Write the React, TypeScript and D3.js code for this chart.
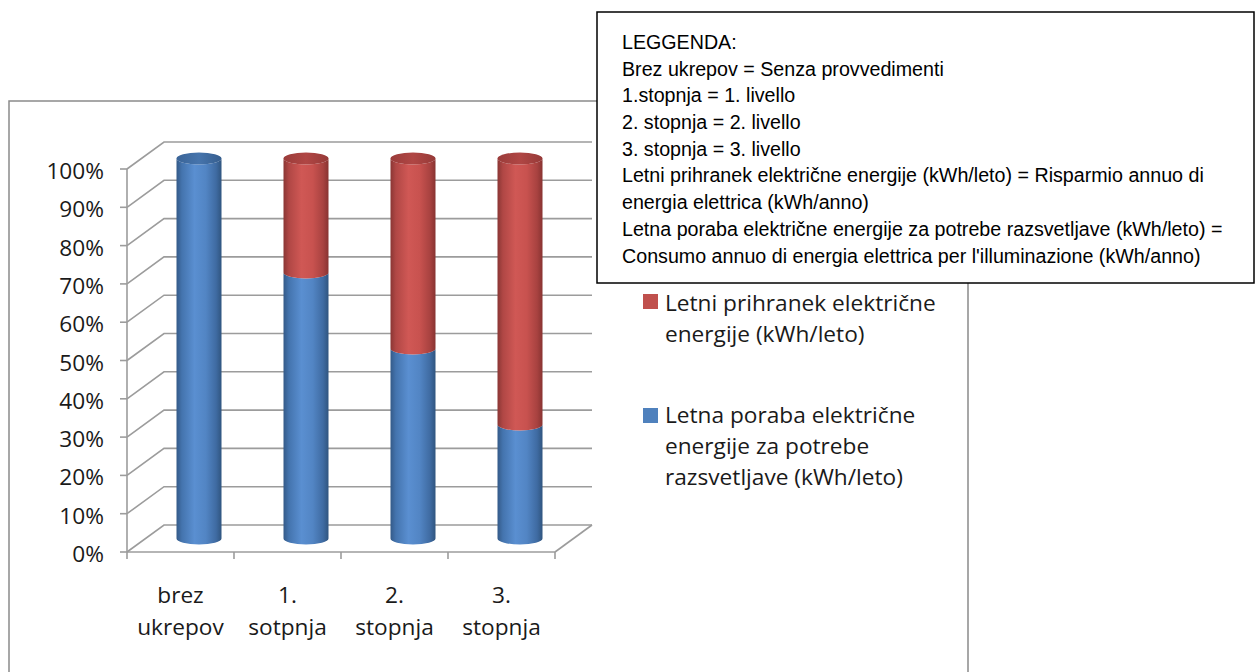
import React from "react";
import * as d3 from "d3";

const categories = ["brez ukrepov", "1. sotpnja", "2. stopnja", "3. stopnja"];
const categoryLines = [
  ["brez", "ukrepov"],
  ["1.", "sotpnja"],
  ["2.", "stopnja"],
  ["3.", "stopnja"],
];
const porabaValues = [100, 70, 50, 30];
const prihranekValues = [0, 30, 50, 70];
const yTickValues = [0, 10, 20, 30, 40, 50, 60, 70, 80, 90, 100];
const seriesPrihranek = ["Letni prihranek električne", "energije (kWh/leto)"];
const seriesPoraba = ["Letna poraba električne", "energije za potrebe", "razsvetljave (kWh/leto)"];
const noteLines = [
  "LEGGENDA:",
  "Brez ukrepov = Senza provvedimenti",
  "1.stopnja = 1. livello",
  "2. stopnja = 2. livello",
  "3. stopnja = 3. livello",
  "Letni prihranek električne energije (kWh/leto) = Risparmio annuo di",
  "energia elettrica (kWh/anno)",
  "Letna poraba električne energije za potrebe razsvetljave (kWh/leto) =",
  "Consumo annuo di energia elettrica per l'illuminazione (kWh/anno)",
];

const W = 1256;
const H = 672;
const DX = 37;
const DY = -27;
const RX = 22.5;
const RY = 6;
const BLUE = "#4F81BD";
const RED = "#C0504D";
const GRID = "#9C9C9C";
const LABEL_FONT = "'Open Sans', 'Noto Sans', sans-serif";
const LABEL_SIZE = 22;
const LABEL_SX = 1.03;
const TEXT_COL = "#1a1a1a";

export default function App() {
  const x = d3.scaleBand<string>().domain(categories).range([127, 555]).paddingInner(0).paddingOuter(0);
  const y = d3.scaleLinear().domain([0, 100]).range([552, 169]);
  const yc = d3.scaleLinear().domain([0, 100]).range([y(0) + DY / 2, y(100) + DY / 2 + 3]);
  const bw = x.bandwidth();
  const backRight = x.range()[1] + DX;

  const seg = (cx: number, v0: number, v1: number) => {
    const top = yc(v1);
    const bot = yc(v0);
    return `M${cx - RX},${top} L${cx - RX},${bot} A${RX},${RY} 0 0 0 ${cx + RX},${bot} L${cx + RX},${top} A${RX},${RY} 0 0 1 ${cx - RX},${top} Z`;
  };

  return (
    <svg width={W} height={H} style={{ position: "absolute", left: 0, top: 0, background: "#fff" }}>
      <defs>
        <linearGradient id="gBlue" x1="0" x2="1" y1="0" y2="0">
          <stop offset="0" stopColor="#345A88" />
          <stop offset="0.12" stopColor="#4474AE" />
          <stop offset="0.4" stopColor="#5A8FD1" />
          <stop offset="0.65" stopColor="#5285C4" />
          <stop offset="0.88" stopColor="#3F6BA2" />
          <stop offset="1" stopColor="#30557F" />
        </linearGradient>
        <linearGradient id="gRed" x1="0" x2="1" y1="0" y2="0">
          <stop offset="0" stopColor="#8A3634" />
          <stop offset="0.12" stopColor="#B04745" />
          <stop offset="0.4" stopColor="#D05855" />
          <stop offset="0.65" stopColor="#C8524F" />
          <stop offset="0.88" stopColor="#A84240" />
          <stop offset="1" stopColor="#883331" />
        </linearGradient>
        <linearGradient id="gBlueTop" x1="0" x2="1" y1="0" y2="0">
          <stop offset="0" stopColor="#3A6497" />
          <stop offset="0.5" stopColor="#4674AC" />
          <stop offset="1" stopColor="#365E8E" />
        </linearGradient>
        <linearGradient id="gRedTop" x1="0" x2="1" y1="0" y2="0">
          <stop offset="0" stopColor="#9A3C3A" />
          <stop offset="0.5" stopColor="#B04644" />
          <stop offset="1" stopColor="#963A38" />
        </linearGradient>
      </defs>

      {/* chart frame */}
      <rect x={9} y={101} width={959} height={620} fill="#fff" stroke="#8A8A8A" strokeWidth={1.5} />

      {/* gridlines on back wall with side diagonals */}
      {yTickValues.map((v) => (
        <polyline
          key={"g" + v}
          points={`${x.range()[0]},${y(v)} ${x.range()[0] + DX},${y(v) + DY} ${backRight},${y(v) + DY}`}
          fill="none"
          stroke={GRID}
          strokeWidth={1.6}
        />
      ))}
      {/* floor */}
      <line x1={x.range()[0]} x2={x.range()[1]} y1={y(0)} y2={y(0)} stroke={GRID} strokeWidth={1.6} />
      <line x1={x.range()[1]} x2={backRight} y1={y(0)} y2={y(0) + DY} stroke={GRID} strokeWidth={1.6} />
      {/* category ticks */}
      {[...categories.map((c) => x(c) as number), x.range()[1]].map((tx, i) => (
        <line key={"ct" + i} x1={tx} x2={tx} y1={y(0)} y2={y(0) + 7} stroke={GRID} strokeWidth={1.6} />
      ))}
      {/* value axis */}
      <line x1={x.range()[0]} x2={x.range()[0]} y1={y(100)} y2={y(0)} stroke={GRID} strokeWidth={1.6} />
      {yTickValues.map((v) => (
        <line key={"yt" + v} x1={x.range()[0] - 7} x2={x.range()[0]} y1={y(v)} y2={y(v)} stroke={GRID} strokeWidth={1.6} />
      ))}

      {/* cylinders */}
      {categories.map((c, i) => {
        const cx = (x(c) as number) + bw / 2 + DX / 2;
        const p = porabaValues[i];
        const r = prihranekValues[i];
        const total = p + r;
        return (
          <g key={"cyl" + i}>
            <path d={seg(cx, 0, p)} fill="url(#gBlue)" />
            {r > 0 && <path d={seg(cx, p, total)} fill="url(#gRed)" />}
            <ellipse cx={cx} cy={yc(total)} rx={RX} ry={RY} fill={r > 0 ? "url(#gRedTop)" : "url(#gBlueTop)"} />
          </g>
        );
      })}

      {/* y labels */}
      {yTickValues.map((v) => (
        <g key={"yl" + v} transform={`translate(104,${y(v) + 10}) scale(${LABEL_SX},1)`}>
          <text x={0} y={0} textAnchor="end" fontFamily={LABEL_FONT} fontSize={LABEL_SIZE} fill={TEXT_COL}>
            {v + "%"}
          </text>
        </g>
      ))}

      {/* category labels */}
      {categories.map((c, i) => (
        <g key={"cl" + i} transform={`translate(${(x(c) as number) + bw / 2},0) scale(${LABEL_SX},1)`}>
          <text textAnchor="middle" fontFamily={LABEL_FONT} fontSize={LABEL_SIZE} fill={TEXT_COL}>
            {categoryLines[i].map((ln, j) => (
              <tspan key={j} x={0} y={603 + j * 32}>
                {ln}
              </tspan>
            ))}
          </text>
        </g>
      ))}

      {/* series legend */}
      <rect x={643} y={294} width={15} height={15} fill={RED} />
      <g transform={`translate(665,0) scale(${LABEL_SX},1)`}>
        <text fontFamily={LABEL_FONT} fontSize={LABEL_SIZE} fill={TEXT_COL}>
          {seriesPrihranek.map((ln, j) => (
            <tspan key={j} x={0} y={311 + j * 31}>
              {ln}
            </tspan>
          ))}
        </text>
      </g>
      <rect x={643} y={408} width={15} height={15} fill={BLUE} />
      <g transform={`translate(665,0) scale(${LABEL_SX},1)`}>
        <text fontFamily={LABEL_FONT} fontSize={LABEL_SIZE} fill={TEXT_COL}>
          {seriesPoraba.map((ln, j) => (
            <tspan key={j} x={0} y={423 + j * 31}>
              {ln}
            </tspan>
          ))}
        </text>
      </g>

      {/* note box */}
      <rect x={597} y={12} width={657} height={271} fill="#fff" stroke="#000" strokeWidth={1.5} />
      <g transform="translate(622,0) scale(0.937,1)">
        <text fontFamily="'Liberation Sans', Arial, sans-serif" fontSize={21} fill="#000">
          {noteLines.map((ln, j) => (
            <tspan key={j} x={0} y={49 + j * 26.7}>
              {ln}
            </tspan>
          ))}
        </text>
      </g>
    </svg>
  );
}
